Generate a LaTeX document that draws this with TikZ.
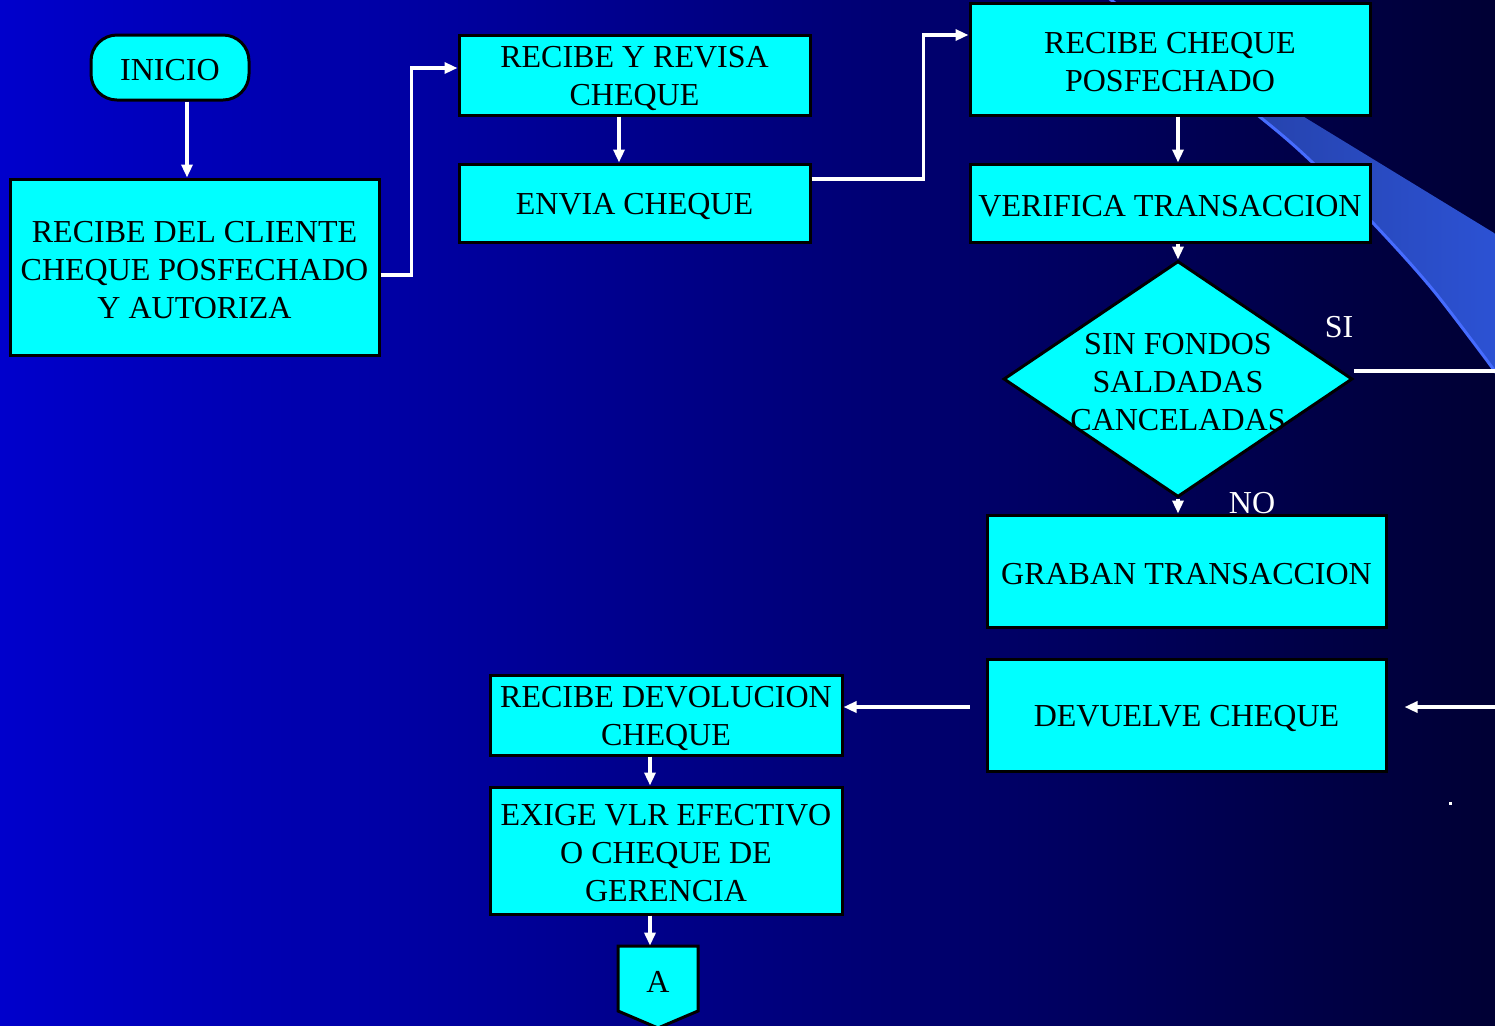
\documentclass[tikz,border=0pt]{standalone}
\usepackage{fontspec}
\setmainfont{Liberation Serif}
\newfontfamily\boxface{Liberation Serif}
\usetikzlibrary{arrows.meta,shapes.geometric,calc}
\definecolor{bgleft}{RGB}{0,0,204}
\definecolor{bgright}{RGB}{0,0,52}
\definecolor{boxcyan}{RGB}{0,255,255}
\definecolor{bandleft}{RGB}{34,58,150}
\definecolor{bandright}{RGB}{44,82,212}
\definecolor{bandedge}{RGB}{70,108,255}
% a taller first line drops a text block slightly inside its box
\newcommand\tallstrut{\rule{0pt}{13.6pt}}
\begin{document}
\begin{tikzpicture}[x=0.5pt,y=-0.5pt,
  boxfont/.style={font=\boxface\fontsize{16}{19}\selectfont},
  lowered/.style={execute at begin node={\tallstrut}},
  box/.style={draw=black, line width=1.5pt, fill=boxcyan, inner sep=0pt,
              align=center, boxfont, lowered},
  plain/.style={inner sep=0pt, align=center, boxfont, lowered},
  lbl/.style={text=white, inner sep=0pt, boxfont},
  arr/.style={draw=white, line width=1.6pt, -{Triangle[length=6.5pt,width=5.5pt]}},
  wire/.style={draw=white, line width=1.6pt}]

% page and background gradient
\useasboundingbox (0,0) rectangle (1495,1025);
\shade[left color=bgleft, right color=bgright] (0,0) rectangle (1495,1025);

% decorative swoosh in the upper right
\shade[left color=bandleft, right color=bandright]
  (1106,-4) -- (1499,236) -- (1499,374)
  -- plot[smooth] coordinates {(1493,370) (1433,290) (1373,223) (1313,163) (1260,117) (1106,-4)}
  -- cycle;
\draw[bandedge, line width=1.5pt]
  plot[smooth] coordinates {(1106,-4) (1260,117) (1313,163) (1373,223) (1433,290) (1497,374)};

% flow nodes
\node[box, rounded corners=13pt, minimum width=79pt, minimum height=32.5pt]
  (inicio) at (170,67.5) {INICIO};
\node[box, minimum width=184.5pt, minimum height=88pt]
  (b1) at (194.5,267) {\tallstrut RECIBE DEL CLIENTE\\CHEQUE POSFECHADO\\Y AUTORIZA};
\node[box, minimum width=175.5pt, minimum height=40pt]
  (b2) at (634.5,75) {\tallstrut RECIBE Y REVISA\\CHEQUE};
\node[box, minimum width=175.5pt, minimum height=39pt]
  (b3) at (634.5,203) {ENVIA CHEQUE};
\node[box, minimum width=200pt, minimum height=56pt]
  (b4) at (1170,59) {\tallstrut RECIBE CHEQUE\\POSFECHADO};
\node[box, minimum width=200pt, minimum height=39pt]
  (b5) at (1170,203) {VERIFICA TRANSACCION};
\node[draw=black, line width=1.5pt, fill=boxcyan, inner sep=0pt, shape=diamond,
      minimum width=174.5pt, minimum height=118pt]
  (d) at (1178,379) {};
\node[plain] (dtext) at (d) {\tallstrut SIN FONDOS\\SALDADAS\\CANCELADAS};
\node[box, minimum width=199.5pt, minimum height=56pt]
  (b6) at (1186.5,571) {GRABAN TRANSACCION};
\node[box, minimum width=199.5pt, minimum height=56pt]
  (b7) at (1186.5,715) {DEVUELVE CHEQUE};
\node[box, minimum width=176pt, minimum height=40pt]
  (b8) at (666,715) {\tallstrut RECIBE DEVOLUCION\\CHEQUE};
\node[box, minimum width=176pt, minimum height=63.5pt]
  (b9) at (666,850.5) {\tallstrut EXIGE VLR EFECTIVO\\O CHEQUE DE\\GERENCIA};

% off-page connector
\draw[line width=1.5pt, fill=boxcyan] (618,946) -- (698,946) -- (698,1011) -- (658,1028) -- (618,1011) -- cycle;
\node[plain, minimum width=40pt, minimum height=32.5pt] (A) at (658,978.5) {A};

% branch labels
\node[lbl] (si) at (1339,327) {SI};
\node[lbl] (no) at (1252,503) {NO};

% loose ends at the right margin
\coordinate (siend) at (1497,371);
\coordinate (retstart) at (1497,707);

% connectors
\draw[arr] ([xshift=8.5pt]inicio.south) -- ([xshift=8.5pt]inicio.south |- b1.north);
\draw[arr] ([yshift=-4pt]b1.east) -- ++(31,0) |- ([yshift=3.5pt]b2.west);
\draw[arr] ([xshift=-7.75pt]b2.south) -- ([xshift=-7.75pt]b3.north);
\draw[arr] ([yshift=12pt]b3.east) -- ++(112,0) |- ([yshift=12pt]b4.west);
\draw[arr] ([xshift=4pt]b4.south) -- ([xshift=4pt]b5.north);
\draw[arr] (b5.south -| d.north) -- (d.north);
\draw[wire] ([yshift=4pt]d.east) -- (siend);
\draw[arr] (d.south) -- (d.south |- b6.north);
\draw[arr] (retstart) -- ([xshift=8.5pt,yshift=4pt]b7.east);
\draw[arr] ([xshift=-8pt,yshift=4pt]b7.west) -- ([yshift=4pt]b8.east);
\draw[arr] ([xshift=-8pt]b8.south) -- ([xshift=-8pt]b9.north);
\draw[arr] ([xshift=-8pt]b9.south) -- ([xshift=-8pt]b9.south |- A.north);

% stray point
\fill[white] (1448.5,801.5) rectangle (1451.5,804.5);
\end{tikzpicture}
\end{document}
